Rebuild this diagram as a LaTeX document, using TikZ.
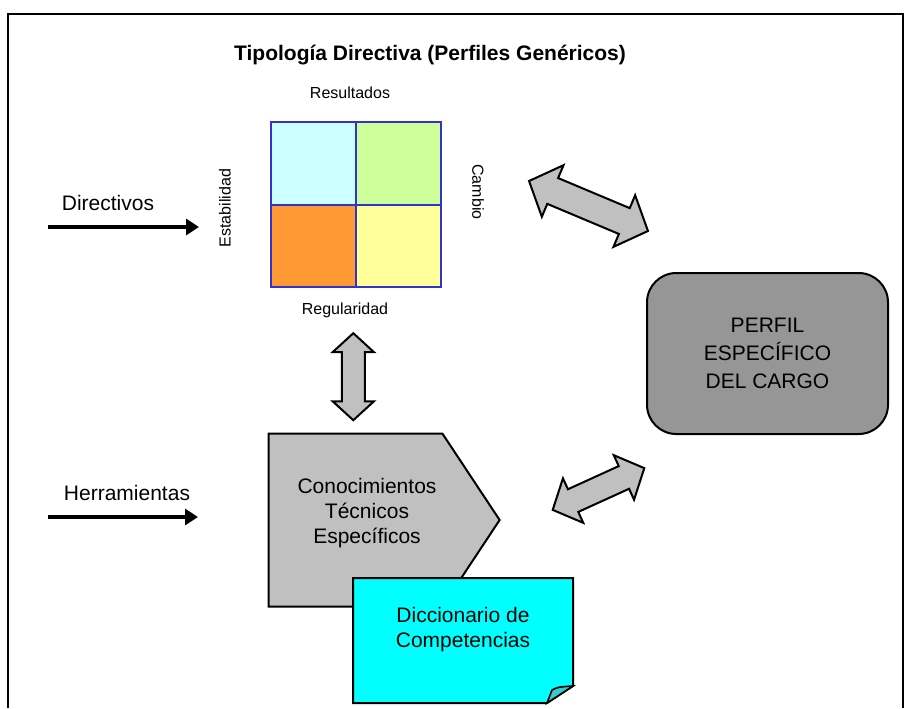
\documentclass[tikz,border=0pt]{standalone}
\usepackage{fontspec}
\setmainfont{Liberation Sans}
\usepackage{xcolor}
\usetikzlibrary{shapes.arrows,shapes.symbols,arrows.meta,positioning}

\definecolor{celdaRes}{HTML}{CCFFFF}
\definecolor{celdaCam}{HTML}{CCFF99}
\definecolor{celdaEst}{HTML}{FF9933}
\definecolor{celdaReg}{HTML}{FFFF99}
\definecolor{lineaAzul}{HTML}{3333CC}
\definecolor{grisClaro}{HTML}{C0C0C0}
\definecolor{grisPerfil}{HTML}{969696}
\definecolor{cianDic}{HTML}{00FFFF}
\definecolor{cianDoblez}{HTML}{33CCCC}

\begin{document}
\begin{tikzpicture}[x=0.75pt, y=-0.75pt,
    grande/.style={font=\fontsize{15.75}{18.75}\selectfont, align=center},
    chico/.style={font=\fontsize{12}{14}\selectfont},
    celda/.style={rectangle, draw=lineaAzul, line width=1.5pt, minimum width=63.75pt, minimum height=61.9pt},
    entrada/.style={-{Triangle[length=9.75pt,width=12pt]}, line width=3pt},
    doble/.style={double arrow, draw, line width=1.5pt, fill=grisClaro, inner xsep=0pt,
        double arrow tip angle=95, text height=0pt, text depth=0pt}]

    \useasboundingbox (0,0) rectangle (910,708);
    % marco
    \draw[line width=1.5pt] (8,708) -- (8,14) -- (903,14) -- (903,708);

    \node[font=\bfseries\fontsize{15.75}{18}\selectfont] (titulo) at (430,55) {Tipología Directiva (Perfiles Genéricos)};

    % cuadrante de tipologias
    \node[celda, fill=celdaRes] (c11) at (313.5,163.3) {};
    \node[celda, fill=celdaCam] (c12) at (398.5,163.3) {};
    \node[celda, fill=celdaEst] (c21) at (313.5,245.8) {};
    \node[celda, fill=celdaReg] (c22) at (398.5,245.8) {};

    \node[chico] (resultados) at (350,93) {Resultados};
    \node[chico, rotate=90] (estabilidad) at (225,208) {Estabilidad};
    \node[chico, rotate=-90] (cambio) at (478,192) {Cambio};
    \node[chico] (regularidad) at (345,310) {Regularidad};

    % entradas
    \node[grande] (directivos) at (108,203) {Directivos};
    \coordinate (dirIni) at (48,227);
    \coordinate (dirFin) at (199,227);
    \draw[entrada] (dirIni) -- (dirFin);

    \node[grande] (herramientas) at (127,493) {Herramientas};
    \coordinate (herIni) at (48,517);
    \coordinate (herFin) at (198,517);
    \draw[entrada] (herIni) -- (herFin);

    % conocimientos
    \node[signal, signal to=east, signal pointer angle=113, draw, line width=1.5pt, fill=grisClaro,
        minimum width=173.25pt, minimum height=129.75pt] (conoc) at (355.5,520) {};
    \node[grande] (conocTxt) at (367,513) {Conocimientos\\Técnicos\\Específicos};

    % perfil
    \node[rectangle, rounded corners=22pt, draw, line width=1.5pt, fill=grisPerfil,
        minimum width=180.75pt, minimum height=120.75pt,
        font=\fontsize{15.75}{21}\selectfont, align=center] (perfil) at (767.5,353.5)
        {PERFIL\\ESPECÍFICO\\DEL CARGO};

    % flechas dobles
    \node[doble, rotate=-22.8, minimum height=96.75pt, inner ysep=9.75pt, double arrow head extend=10.5pt] (flechaSup) at (588.5,206) {};
    \node[doble, rotate=90, minimum height=65.25pt, inner ysep=7.9pt, double arrow head extend=6.75pt] (flechaVert) at (353.3,376.7) {};
    \node[doble, rotate=24.5, minimum height=75.5pt, inner ysep=8.6pt, double arrow head extend=9pt] (flechaInf) at (598.5,489) {};

    % diccionario
    \draw[line width=1.5pt, fill=cianDic] (353,578) -- (573,578) -- (573,686) -- (547,703) -- (353,703) -- cycle;
    \draw[line width=1.2pt, fill=cianDoblez] (547,703) -- (552,690) .. controls (558,687) .. (573,686) -- cycle;
    \node[grande] (dicc) at (463,630) {Diccionario de\\Competencias};
\end{tikzpicture}
\end{document}
